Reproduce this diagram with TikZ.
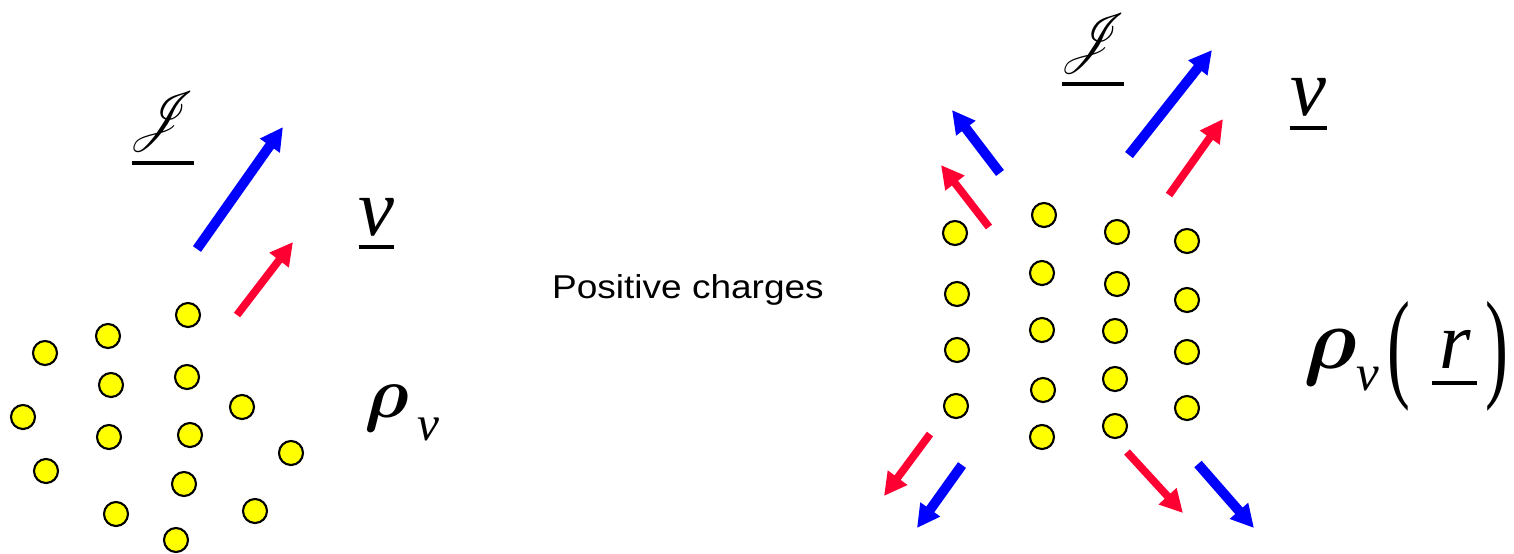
\documentclass[tikz,border=0pt]{standalone}
\usepackage{fontspec}
\usepackage{mathrsfs}
\usepackage{graphicx}
\usetikzlibrary{arrows.meta}

\newfontfamily\tnr{Liberation Serif}
\newfontfamily\arialf{Liberation Sans}
\newdimen\px \px=0.01cm
\definecolor{vred}{RGB}{255,0,51}
\definecolor{chargeY}{RGB}{255,255,0}

% underlined symbol: #1 rule width, #2 drop below baseline (both in px), #3 glyph
\newcommand\ulsym[3]{\setbox0\hbox{#3}%
  \hbox to\wd0{\hss\raisebox{-#2\px}[0pt][0pt]{\rule{#1\px}{1.1pt}}\hss}\kern-\wd0\box0}
% script current-density letter
\newcommand\curJ{\scalebox{0.9}[1]{$\mathscr{J}$}}
% charge-density letter
\newcommand\rhosym{\boldmath$\rho$}

\tikzset{
  charge/.style={circle, draw=black, line width=0.6pt, fill=chargeY,
                 minimum size=0.24cm, inner sep=0pt},
  vel/.style={draw=vred, line width=2.2pt, line cap=butt,
              -{Triangle[length=6.5pt,width=6.5pt]}},
  cur/.style={draw=blue, line width=2.8pt, line cap=butt,
              -{Triangle[length=6.5pt,width=6.5pt]}},
  sym/.style={inner sep=0pt, outer sep=0pt, anchor=base},
  symw/.style={inner sep=0pt, outer sep=0pt, anchor=base west}
}

\begin{document}
\begin{tikzpicture}[x=0.01cm, y=-0.01cm]
  \useasboundingbox (0,0) rectangle (1514,553);

  % ---- left cloud of charges ----
  \foreach \p [count=\i] in {(45,353),(108,336),(188,315),(111,385),(187,377),
      (23,417),(242,407),(109,437),(190,435),(291,453),(46,471),(184,484),
      (116,514),(255,511),(176,540)}
    \node[charge] (lq\i) at \p {};

  \draw[cur] (197,249) -- (283,127);
  \draw[vel] (237,315) -- (293,242);

  \node[sym] (jl) at (163,134)
    {\fontsize{17}{20}\selectfont\ulsym{62}{31}{\curJ}};
  \node[sym] (vl) at (376,235)
    {\fontsize{23}{27}\selectfont\tnr\itshape\ulsym{35}{14}{v}};
  \node[symw] (rhol) at (364,417)
    {\tnr\itshape\rlap{\fontsize{22}{25}\selectfont\rhosym}\kern53\px
     \raisebox{-23\px}{\fontsize{14}{17}\selectfont v}};

  % ---- caption ----
  \node[sym] (cap) at (688,298)
    {\arialf\fontsize{9.4}{11}\selectfont\scalebox{1.12}[1]{Positive charges}};

  % ---- right column of charges ----
  \foreach \p [count=\i] in {(955,233),(957,294),(957,350),(956,406),
      (1044,215),(1042,273),(1042,330),(1043,390),(1042,437),
      (1117,232),(1117,284),(1115,331),(1115,379),(1115,426),
      (1187,241),(1187,300),(1187,352),(1187,408)}
    \node[charge] (rq\i) at \p {};

  \draw[cur] (1000,173) -- (952,110);
  \draw[vel] (989,227) -- (941,165);
  \draw[cur] (1129,155) -- (1212,50);
  \draw[vel] (1169,195) -- (1223,119);
  \draw[vel] (930,434) -- (884,496);
  \draw[cur] (962,465) -- (917,528);
  \draw[vel] (1127,452) -- (1183,513);
  \draw[cur] (1198,464) -- (1254,528);

  \node[sym] (jr) at (1093,56)
    {\fontsize{17}{20}\selectfont\ulsym{62}{30}{\curJ}};
  \node[sym] (vr) at (1308,115)
    {\fontsize{23}{27}\selectfont\tnr\itshape\ulsym{37}{15}{v}};
  \node[symw] (rhor) at (1303,368)
    {\tnr\itshape\fontsize{23}{27}\selectfont
     \rlap{\fontsize{26}{29}\selectfont\rhosym}\kern53\px
     \rlap{\raisebox{-22\px}{\fontsize{14.5}{17}\selectfont v}}\kern31\px
     \rlap{\raisebox{-17\px}{\scalebox{0.85}[1.5]{\upshape(}}}\kern52\px
     \rlap{\kern-7\px\raisebox{-17\px}{\rule{45\px}{1.1pt}}}%
     \rlap{r}\kern46\px
     \rlap{\raisebox{-17\px}{\scalebox{0.85}[1.5]{\upshape)}}}};
\end{tikzpicture}
\end{document}
